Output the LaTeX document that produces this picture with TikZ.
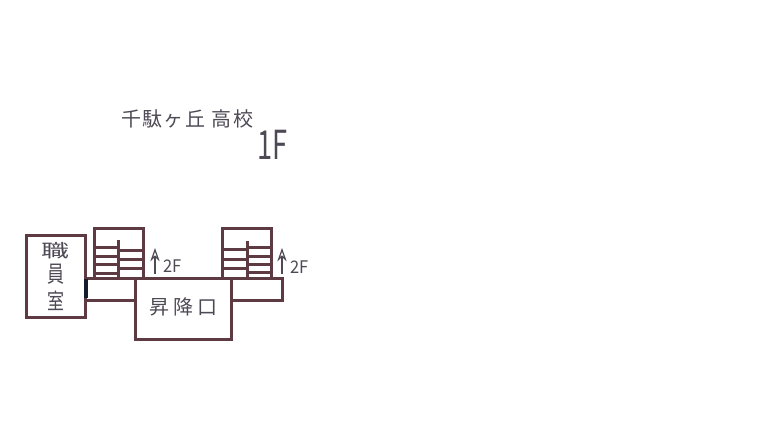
\documentclass[tikz,border=0pt]{standalone}
\usepackage{fontspec}
\setmainfont{Noto Sans CJK JP}
\usetikzlibrary{arrows.meta}
\definecolor{wall}{HTML}{5E3A42}
\definecolor{ink}{HTML}{4E4A55}
\definecolor{doorc}{HTML}{141C2E}
\tikzset{
  x=0.75pt,y=-0.75pt,
  room/.style={draw=wall,line width=2.25pt,inner sep=0pt,outer sep=0pt},
  wallline/.style={draw=wall,line width=2.25pt,line cap=rect},
  tread/.style={draw=wall,line width=2.25pt},
  uparrow/.style={draw=ink,line width=0.9pt,-{Stealth[length=10pt,width=7pt,open]}},
  hand/.style={text=ink,inner sep=0pt,font=\fontsize{15}{16}\selectfont},
  small/.style={text=ink,inner sep=0pt,font=\fontsize{13}{14}\selectfont},
}
\begin{document}
\begin{tikzpicture}
\useasboundingbox (0,0) rectangle (768,432);
\fill[white] (0,0) rectangle (768,432);
% rooms
\draw[room] (26,235) rectangle (85,317);
\draw[room] (85,278) rectangle (135,300);
\draw[room] (231,278) rectangle (282,300);
\draw[room] (135,278) rectangle (231,339);
% left stairs
\draw[wallline] (94,278) -- (94,228) -- (143,228) -- (143,278);
\draw[wallline] (118,241) -- (118,278);
\foreach \y in {247,256,264,273} \draw[tread] (94,\y) -- (118,\y);
\foreach \y in {250,259,268} \draw[tread] (118,\y) -- (143,\y);
% right stairs
\draw[wallline] (222,278) -- (222,228) -- (271,228) -- (271,278);
\draw[wallline] (247,242) -- (247,278);
\foreach \y in {249,259,268} \draw[tread] (222,\y) -- (247,\y);
\foreach \y in {247,256,264,272} \draw[tread] (247,\y) -- (271,\y);
% door
\fill[doorc] (83.5,279) rectangle (87.5,297.5);
% arrows
\coordinate (a1) at (155,274); \coordinate (a1t) at (155,248);
\coordinate (a2) at (282,274); \coordinate (a2t) at (282,248);
\draw[uparrow] (a1) -- (a1t);
\draw[uparrow] (a2) -- (a2t);
% labels
\node[small,anchor=west] (f1) at (163,266.5) {\scalebox{.95}[1]{2F}};
\node[small,anchor=west] (f2) at (290,267) {\scalebox{.95}[1]{2F}};
\node[hand] (r1) at (55.5,251) {\scalebox{1.4}[.9]{職}};
\node[hand] (r2) at (55.5,274) {\scalebox{.85}[1.15]{員}};
\node[hand] (r3) at (55.5,301) {\scalebox{.85}[1.1]{室}};
\node[hand,font=\fontsize{15}{16}\selectfont] (lobby) at (183.5,307) {昇\kern3pt 降\kern3pt 口};
\node[hand,anchor=west,font=\fontsize{15}{16}\selectfont] (school) at (121,119) {千\kern1pt 駄\kern1pt ヶ\kern1pt 丘\kern5pt 高\kern1pt 校};
\node[hand,anchor=west,font=\fontsize{30}{31}\selectfont] (floor) at (257,145) {\scalebox{.68}[1]{1F}};
\end{tikzpicture}
\end{document}
